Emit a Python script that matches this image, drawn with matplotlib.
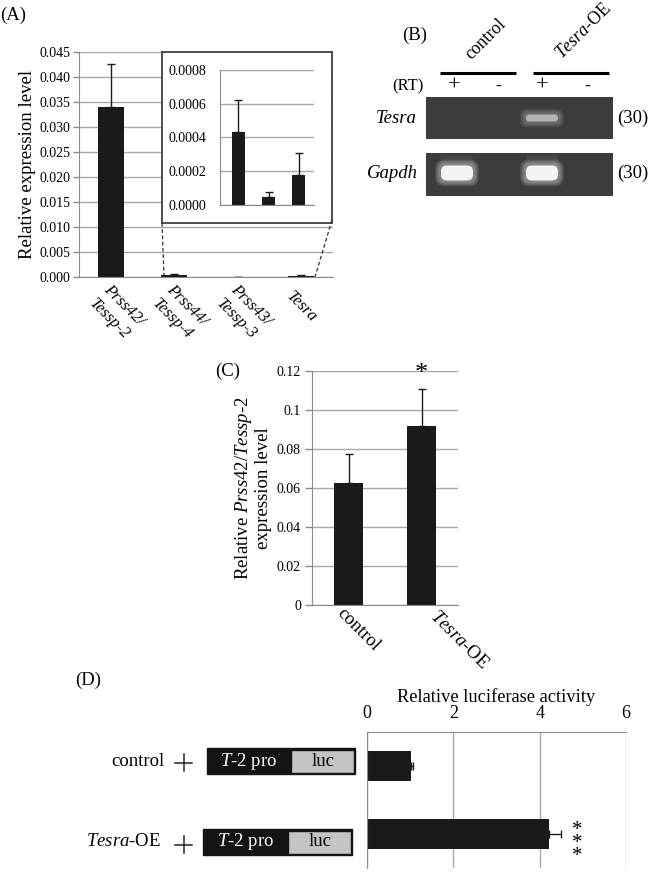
import numpy as np
import matplotlib
matplotlib.use("Agg")
import matplotlib.pyplot as plt
from matplotlib.patches import Rectangle, FancyBboxPatch

plt.rcParams['font.family'] = ['Liberation Serif', 'DejaVu Serif']
plt.rcParams['mathtext.fontset'] = 'custom'
plt.rcParams['mathtext.rm'] = 'Liberation Serif'
plt.rcParams['mathtext.it'] = 'Liberation Serif:italic'

W, H = 649, 886

# (A) relatieve expressie
genes_a = ["Prss42/\nTessp-2", "Prss44/\nTessp-4", "Prss43/\nTessp-3", "Tesra"]
expr_a = [0.0340, 0.00043, 0.00005, 0.000175]
err_a = [0.0085, 0.00019, 0.00003, 0.000135]
yticks_a = [0.000, 0.005, 0.010, 0.015, 0.020, 0.025, 0.030, 0.035, 0.040, 0.045]
yticks_inset = [0.0000, 0.0002, 0.0004, 0.0006, 0.0008]

# (B) RT-PCR
groups_b = ["control", "$\\mathit{Tesra}$-OE"]
rt_b = ["+", "-", "+", "-"]
genes_b = ["Tesra", "Gapdh"]
cycles_b = ["(30)", "(30)"]
tesra_band = [0, 0, 0.6, 0]
gapdh_band = [1, 0, 1, 0]

# (C)
groups_c = ["control", "$\\mathit{Tesra}$-OE"]
expr_c = [0.0625, 0.092]
err_c = [0.015, 0.019]
yticks_c = [0, 0.02, 0.04, 0.06, 0.08, 0.1, 0.12]
ylabels_c = ["0", "0.02", "0.04", "0.06", "0.08", "0.1", "0.12"]

# (D) luciferase
groups_d = ["control", "$\\mathit{Tesra}$-OE"]
expr_d = [1.02, 4.21]
err_d = [0.05, 0.28]
xticks_d = [0, 2, 4, 6]

BAR = '#1a1a1a'
GRID = '#a8a8a8'
SPINE = '#8c8c8c'

fig = plt.figure(figsize=(W / 100, H / 100), dpi=100)


def px_axes(x0, y0, x1, y1, **kw):
    return fig.add_axes([x0 / W, 1 - y1 / H, (x1 - x0) / W, (y1 - y0) / H], **kw)


def excel_style(ax):
    for s in ['top', 'right']:
        ax.spines[s].set_visible(False)
    for s in ['left', 'bottom']:
        ax.spines[s].set_color(SPINE)
    ax.grid(axis='y', color=GRID, lw=1)
    ax.set_axisbelow(True)
    ax.tick_params(axis='x', length=0, labelbottom=False)
    ax.tick_params(axis='y', length=4, color=SPINE, width=1, labelsize=10, pad=2)


ekw = dict(ecolor=BAR, elinewidth=1, capsize=3, capthick=1)

# ---------------- (A)
axA = px_axes(79, 52, 333, 277)
xa = np.arange(len(genes_a))
axA.bar(xa, expr_a, width=0.41, color=BAR, yerr=[np.zeros(4), err_a], error_kw=ekw)
axA.set_xlim(-0.5, 3.5)
axA.set_ylim(0, 0.045)
axA.set_yticks(yticks_a)
axA.set_yticklabels([f"{v:.3f}" for v in yticks_a])
excel_style(axA)
axA.set_ylabel("Relative expression level", fontsize=13.5, labelpad=3)
for i, lab in enumerate(genes_a):
    axA.annotate(lab, xy=(i, 0), xycoords=('data', 'axes fraction'),
                 xytext=(-8.7, -12.3), textcoords='offset points',
                 rotation=-45, rotation_mode='anchor', ha='left', va='center',
                 fontstyle='italic', fontsize=12, linespacing=1.35)
fig.text(0 / W, 1 - 15 / H, "(A)", fontsize=13.5, va='center', ha='left')

# inset frame
frame = px_axes(162, 52, 332, 223)
frame.set_xticks([]); frame.set_yticks([])
for s in frame.spines.values():
    s.set_color('#404040'); s.set_linewidth(1.3)
frame.set_zorder(5)

axI = px_axes(220, 70, 314, 205)
axI.set_zorder(6)
axI.patch.set_alpha(0)
xi = np.arange(3)
axI.bar(xi, expr_a[1:], width=0.43, color=BAR, yerr=[np.zeros(3), err_a[1:]], error_kw=ekw)
axI.set_xlim(-0.61, 2.5)
axI.set_ylim(0, 0.0008)
axI.set_yticks(yticks_inset)
axI.set_yticklabels([f"{v:.4f}" for v in yticks_inset])
excel_style(axI)
axI.tick_params(axis='y', length=0, pad=10)

# overlay for schematic parts
ov = fig.add_axes([0, 0, 1, 1])
ov.set_xlim(0, W); ov.set_ylim(H, 0)
ov.axis('off')
ov.set_zorder(10)

ov.plot([162, 164], [223, 277], color='#303030', lw=0.9, ls=(0, (3, 2)))
ov.plot([332, 315], [220, 277], color='#303030', lw=0.9, ls=(0, (3, 2)))

# ---------------- (B)
ov.text(402, 35, "(B)", fontsize=13.5, ha='left', va='center')
for lab, x0 in zip(groups_b, [471, 562]):
    ov.text(x0, 60, lab, rotation=45, rotation_mode='anchor', ha='left',
            va='baseline', fontsize=12.8)
ov.plot([440, 516], [73, 73], color='black', lw=2.2, solid_capstyle='butt')
ov.plot([533, 609], [73, 73], color='black', lw=2.2, solid_capstyle='butt')
ov.text(392, 86, "(RT)", fontsize=12, ha='left', va='center')
lane_x = [457, 500, 542, 586]
for s, lx in zip(rt_b, [454, 498, 542, 587]):
    ov.text(lx, 86, s, fontsize=16 if s == "+" else 13, ha='center', va='center')

gel_y = [97, 153]
gel_h = [42, 43]
for gy, gh, gname, cyc, bands, bh in zip(gel_y, gel_h, genes_b, cycles_b,
                                         [tesra_band, gapdh_band], [9, 17]):
    ov.add_patch(Rectangle((426, gy), 187, gh, color='#3c3c3c', lw=0))
    cy = gy + (21 if gname == "Tesra" else 20)
    for lx, inten in zip(lane_x, bands):
        if inten <= 0:
            continue
        if gname == "Gapdh":
            ov.add_patch(Rectangle((lx - 16, gy + 2), 32, cy - gy - 2, color='white',
                                   alpha=0.05, lw=0))
        for k in range(5):
            e = (5 - k) * 1.0
            w, h = 34 + 2 * e, bh + 2 * e
            ov.add_patch(FancyBboxPatch((lx - w / 2, cy - h / 2), w, h,
                                        boxstyle=f"round,pad=0,rounding_size={h * 0.35}",
                                        color='white', alpha=0.09 * inten, lw=0))
        core = '#f4f4f4' if inten >= 1 else '#b4b4b4'
        ov.add_patch(FancyBboxPatch((lx - 16, cy - bh / 2 + 1), 32, bh - 2,
                                    boxstyle=f"round,pad=0,rounding_size={bh * 0.35}",
                                    color=core, lw=0))
    ov.text(417 if gname == "Tesra" else 418, cy, gname, fontstyle='italic', fontsize=13.5,
            ha='right', va='center')
    ov.text(617, cy, cyc, fontsize=13.5, ha='left', va='center')

# ---------------- (C)
axC = px_axes(312, 371, 458, 605)
xc = np.arange(len(groups_c))
axC.bar(xc, expr_c, width=0.4, color=BAR, yerr=[np.zeros(2), err_c], error_kw=ekw)
axC.set_xlim(-0.5, 1.5)
axC.set_ylim(0, 0.12)
axC.set_yticks(yticks_c)
axC.set_yticklabels(ylabels_c)
excel_style(axC)
axC.tick_params(axis='y', length=5, pad=3)
axC.set_ylabel("Relative $\\mathit{Prss42/Tessp}$-$\\mathit{2}$\nexpression level",
               fontsize=13.5, labelpad=3, linespacing=1.1)
for i, (lab, off) in enumerate(zip(groups_c, [(-2, 0), (12, -2)])):
    axC.annotate(lab, xy=(i, 0), xycoords=('data', 'axes fraction'),
                 xytext=off, textcoords='offset points', rotation=-45,
                 rotation_mode='anchor', ha='left', va='top', fontsize=13.5)
axC.annotate("*", xy=(1, expr_c[1] + err_c[1]), xytext=(0, 6), textcoords='offset points',
             ha='center', va='baseline', fontsize=19, annotation_clip=False)
fig.text(215 / W, 1 - 371 / H, "(C)", fontsize=13.5, va='center', ha='left')

# ---------------- (D)
axD = px_axes(367, 732, 626, 868)
yd = np.arange(len(groups_d))
axD.barh(yd, expr_d, height=0.43, color=BAR, xerr=[np.zeros(2), err_d], error_kw=ekw)
axD.set_xlim(0, 6)
axD.set_ylim(1.5, -0.5)
axD.set_xticks(xticks_d)
axD.xaxis.tick_top()
axD.xaxis.set_label_position('top')
axD.tick_params(axis='x', length=0, labelsize=13, pad=7)
axD.tick_params(axis='y', length=0, labelleft=False)
axD.set_xlabel("Relative luciferase activity", fontsize=13.2, labelpad=2)
for s in ['bottom', 'right']:
    axD.spines[s].set_visible(False)
for s in ['top', 'left']:
    axD.spines[s].set_color(SPINE)
axD.grid(axis='x', color=GRID, lw=1)
axD.set_axisbelow(True)
axD.annotate("*\n*\n*", xy=(expr_d[1] + err_d[1], 1), xytext=(11.5, -6.8),
             textcoords='offset points', ha='center', va='center', fontsize=15,
             linespacing=0.55, annotation_clip=False)
fig.text(75 / W, 1 - 680 / H, "(D)", fontsize=13.5, va='center', ha='left')

# construct schematic
rows_y = [761, 842]
plus_y = [762.5, 844.5]
label_end = [165, 161]
box_x = [(207, 355, 291), (203, 352, 288)]
box_top = [748, 829]
for lab, ry, py, le, (bx0, bx1, lx0), bt in zip(groups_d, rows_y, plus_y, label_end,
                                                box_x, box_top):
    ov.text(le, ry, lab, fontsize=13.5, ha='right', va='center')
    ov.plot([175, 192], [py, py], color='#202020', lw=1.1)
    ov.plot([183.5, 183.5], [py - 8.5, py + 8.5], color='#202020', lw=1.1)
    ov.add_patch(Rectangle((bx0, bt), bx1 - bx0, 26, facecolor='#141414',
                           edgecolor='#141414', lw=1))
    ov.add_patch(Rectangle((lx0, bt + 1.5), bx1 - lx0 - 1.5, 23, facecolor='#c4c4c4',
                           edgecolor='#141414', lw=1))
    ov.text((bx0 + lx0) / 2, bt + 13, "$\\mathit{T}$-$\\mathit{2}$ pro", color='white',
            fontsize=13.5, ha='center', va='center')
    ov.text((lx0 + bx1) / 2, bt + 13, "luc", fontsize=13.5, ha='center', va='center')

fig.savefig("out.png", dpi=100)
